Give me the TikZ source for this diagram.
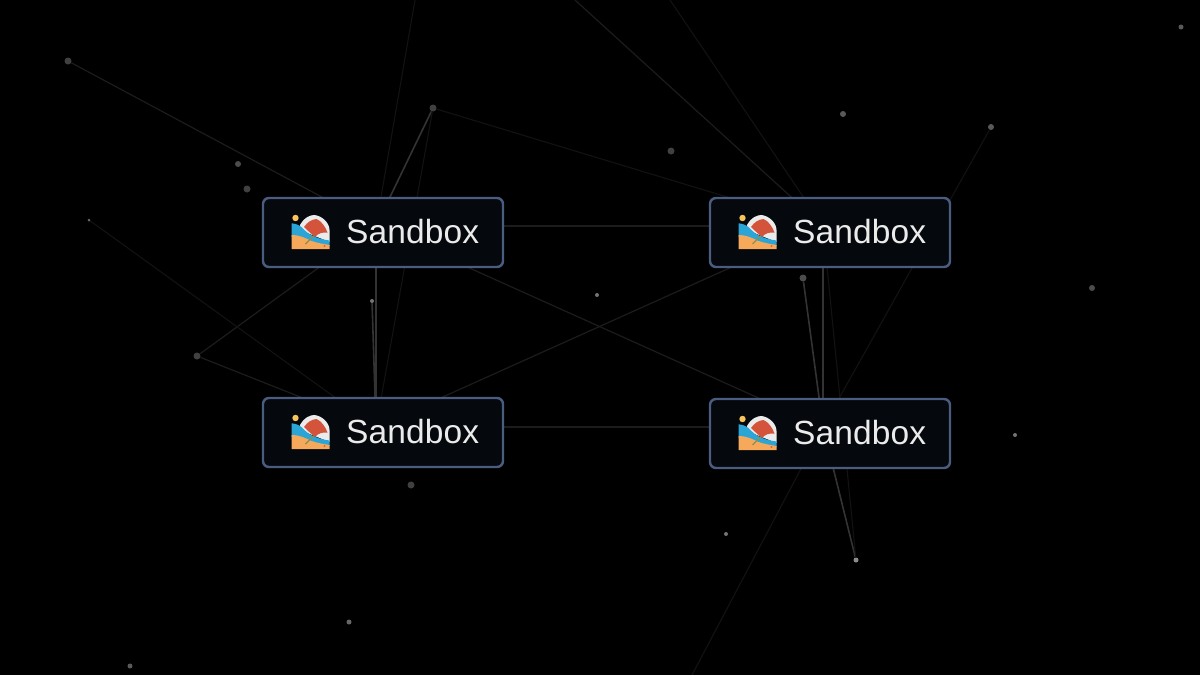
\documentclass[tikz,border=0pt]{standalone}
\usepackage{fontspec}
\setmainfont{Liberation Sans}
\newfontfamily\boxfont[LetterSpace=0.4]{Liberation Sans}
\definecolor{boxfill}{HTML}{05080C}
\definecolor{boxline}{HTML}{4A5D80}
\definecolor{sandcol}{HTML}{F6A95A}
\definecolor{seacol}{HTML}{2AA5D6}
\definecolor{redcol}{HTML}{D4533B}
\definecolor{suncol}{HTML}{F8C45C}
\definecolor{stemcol}{HTML}{8F8F50}
\tikzset{
	sandbox/.style={draw=boxline, line width=2.4pt, fill=boxfill, rounded corners=6pt,
		minimum width=240pt, minimum height=69pt, inner sep=0pt},
	word/.style={text=white!92!black, font=\boxfont\fontsize{33.5}{36}\selectfont, inner sep=0pt},
	dot/.style={circle, inner sep=0pt, fill=#1},
	link/.style={line width=1.2pt, draw=black!89},
	faint/.style={line width=1.1pt, draw=black!93},
	strong/.style={line width=1.6pt, draw=black!80}
}
\newcommand{\beachicon}[2]{%
	\begin{scope}[shift={(#1,#2)}]
		% umbrella
		\fill[white!92!black] (8.5,10) .. controls (13,2) and (19,0) .. (23,0) .. controls (31,1) and (38,8) .. (38,15) -- (38,27) -- (8.5,15) -- cycle;
		\fill[redcol] (12.5,12) .. controls (16,7) and (20,4.5) .. (25,4) .. controls (30,6) and (34,12) .. (36,17.5) .. controls (31,17) and (26,18.5) .. (23.5,22) .. controls (20,19) and (16,15.5) .. (12.5,12) -- cycle;
		% sea and sand
		\fill[seacol] (0,8.3) .. controls (5,8.5) and (9,11) .. (11,13) .. controls (16,19) and (25,24) .. (38,25.5) -- (38,31) -- (0,22) -- cycle;
		\fill[sandcol] (0,20) .. controls (8,20) and (14,23) .. (20,26) .. controls (26,28) and (32,29) .. (38,30) -- (38,34) -- (0,34) -- cycle;
		\draw[stemcol, line width=1.2pt] (22,21) -- (14,29);
		\fill[suncol] (4,3) circle (3.2);
		\fill[redcol!80!sandcol] (33,31) circle (1.2);
	\end{scope}
}

\begin{document}
\begin{tikzpicture}[x=1pt, y=-1pt]
	\fill[black] (0,0) rectangle (1200,675);
	\useasboundingbox (0,0) rectangle (1200,675);
	\clip (0,0) rectangle (1200,675);

	% hidden ends behind the boxes
	\coordinate (p1) at (376,226);
	\coordinate (p2) at (823,226);
	\coordinate (p3) at (376,427);
	\coordinate (p4) at (823,427);
	\coordinate (top1) at (415,0);
	\coordinate (top2) at (575,0);
	\coordinate (top3) at (670,0);
	\coordinate (bot1) at (692,675);

	% dots with links
	\node[dot=black!75, minimum size=7pt] (d1) at (68,61) {};
	\node[dot=black!75, minimum size=7pt] (d2) at (433,108) {};
	\node[dot=black!75, minimum size=7pt] (d3) at (197,356) {};
	\node[dot=black!55, minimum size=4pt] (d4) at (372,301) {};
	\node[dot=black!70, minimum size=7pt] (d5) at (803,278) {};
	\node[dot=black!45, minimum size=5pt] (d6) at (856,560) {};
	\node[dot=black!65, minimum size=6pt] (d7) at (991,127) {};
	\node[dot=black!60, minimum size=3pt] (d8) at (89,220) {};

	% free dots
	\foreach \i/\xx/\yy/\sz/\shade in {1/238/164/6/70, 2/247/189/7/75, 3/671/151/7/75, 4/843/114/6/65,
		5/597/295/4/55, 6/1181/27/5/65, 7/1092/288/6/70, 8/1015/435/4/55,
		9/726/534/4/55, 10/411/485/7/75, 11/349/622/5/60, 12/130/666/5/65}
		\node[dot=black!\shade, minimum size=\sz pt] (s\i) at (\xx,\yy) {};

	% links
	\draw[link] (d1) -- (p1);
	\draw[strong] (d2) -- (p1);
	\draw[faint] (d2) -- (p3);
	\draw[faint] (d2) -- (p2);
	\draw[link] (d3) -- (p1);
	\draw[link] (d3) -- (p3);
	\draw[strong] (d4) -- (p3);
	\draw[faint] (d8) -- (p3);
	\draw[faint] (top1) -- (p1);
	\draw[link] (top2) -- (p2);
	\draw[faint] (top3) -- (p2);
	\draw[link] (p1) -- (p2);
	\draw[link] (p3) -- (p4);
	\draw[link] (p1) -- (p4);
	\draw[link] (p3) -- (p2);
	\draw[strong] (p1) -- (p3);
	\draw[strong] (p2) -- (p4);
	\draw[strong] (d5) -- (p4);
	\draw[faint] (d7) -- (p4);
	\draw[strong] (d6) -- (p4);
	\draw[faint] (d6) -- (p2);
	\draw[faint] (bot1) -- (p4);

	% boxes
	\foreach \i/\xx/\yy in {1/383/232.5, 2/830/232.5, 3/383/432.5, 4/830/433.5} {
		\node[sandbox] (box\i) at (\xx,\yy) {};
		\beachicon{\xx-91.5}{\yy-17.5}
		\node[word, anchor=west] (label\i) at (\xx-37,\yy-1) {Sandbox};
	}
\end{tikzpicture}
\end{document}
